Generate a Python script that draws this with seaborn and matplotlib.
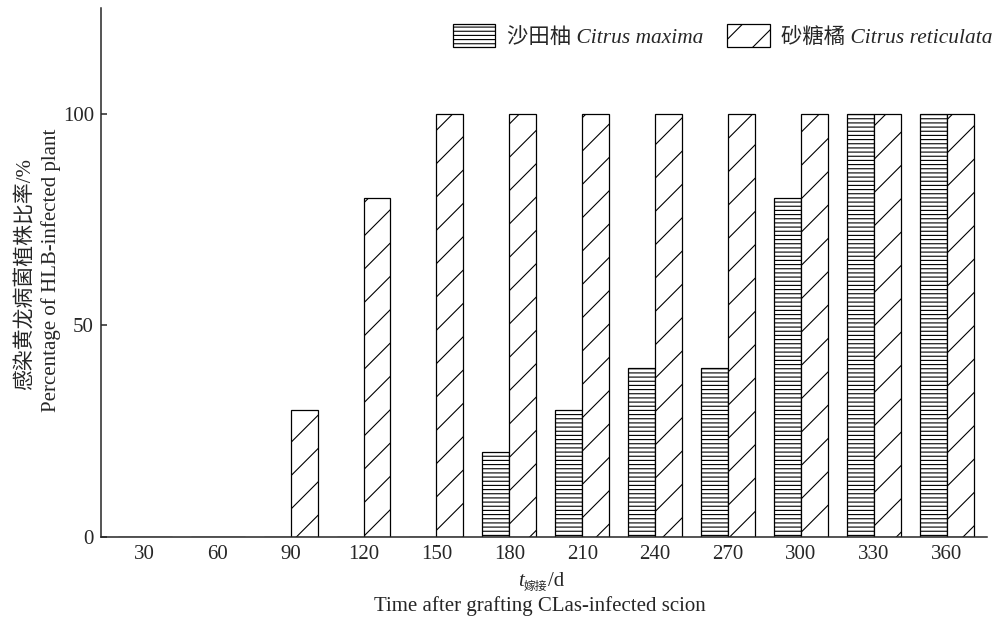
import pandas as pd
import seaborn as sns
import matplotlib.pyplot as plt
from matplotlib.font_manager import FontProperties

# dati
days = ["30", "60", "90", "120", "150", "180", "210", "240", "270", "300", "330", "360"]
species = ["沙田柚 Citrus maxima", "砂糖橘 Citrus reticulata"]
maxima = [0, 0, 0, 0, 0, 20, 30, 40, 40, 80, 100, 100]
reticulata = [0, 0, 30, 80, 100, 100, 100, 100, 100, 100, 100, 100]

df = pd.DataFrame({
    "day": days * 2,
    "rate": maxima + reticulata,
    "species": [species[0]] * len(days) + [species[1]] * len(days),
})

sns.set_style("ticks")
plt.rcParams["font.family"] = ["Liberation Serif", "Noto Sans CJK SC"]
plt.rcParams["hatch.linewidth"] = 0.8
plt.rcParams["axes.linewidth"] = 1.1

W, H = 1003, 626
fig = plt.figure(figsize=(W / 100, H / 100), dpi=100)
ax = fig.add_axes([101 / W, 1 - 537 / H, (987 - 101) / W, (537 - 8) / H])

sns.barplot(data=df, x="day", y="rate", hue="species", order=days, hue_order=species,
            palette=["white", "white"], saturation=1, edgecolor="black", linewidth=0.9,
            width=0.74, errorbar=None, ax=ax)

for cont, hatch in zip(ax.containers, ["----", "/"]):
    for bar in cont:
        bar.set_hatch(hatch)

ax.get_legend().remove()
leg_font = FontProperties(family=["Liberation Serif", "Noto Sans CJK SC"], style="italic", size=15.4)
ax.legend(handles=list(ax.containers), labels=species, prop=leg_font, ncol=2, frameon=False,
          loc="upper right", bbox_to_anchor=(993 / W, 1 - 24 / H), bbox_transform=fig.transFigure,
          borderpad=0, borderaxespad=0, handlelength=2.0, handleheight=1.25,
          handletextpad=0.55, columnspacing=1.1)

ax.set_xlim(-0.6, 11.55)
ax.set_ylim(0, 125)
ax.set_yticks([0, 50, 100])
ax.set_xlabel("")
ax.set_ylabel("")
sns.despine(ax=ax)
ax.tick_params(axis="y", direction="in", length=4, width=1.1, labelsize=15, pad=5)
ax.tick_params(axis="x", length=0, labelsize=15, pad=6)

# etichette degli assi
fig.text(25 / W, 1 - 274 / H, "感染黄龙病菌植株比率/%", rotation=90, ha="center", va="center", fontsize=15)
fig.text(51 / W, 1 - 270 / H, "Percentage of HLB-infected plant", rotation=90, ha="center", va="center", fontsize=15)

fig.text(524 / W, 1 - 586 / H, "t", ha="right", va="baseline", fontsize=15, style="italic")
fig.text(524 / W, 1 - 590 / H, "嫁接", ha="left", va="baseline", fontsize=8.5)
fig.text(548 / W, 1 - 586 / H, "/d", ha="left", va="baseline", fontsize=15)
fig.text(540 / W, 1 - 611 / H, "Time after grafting CLas-infected scion", ha="center", va="baseline", fontsize=15)

plt.savefig("out.png", dpi=100)
